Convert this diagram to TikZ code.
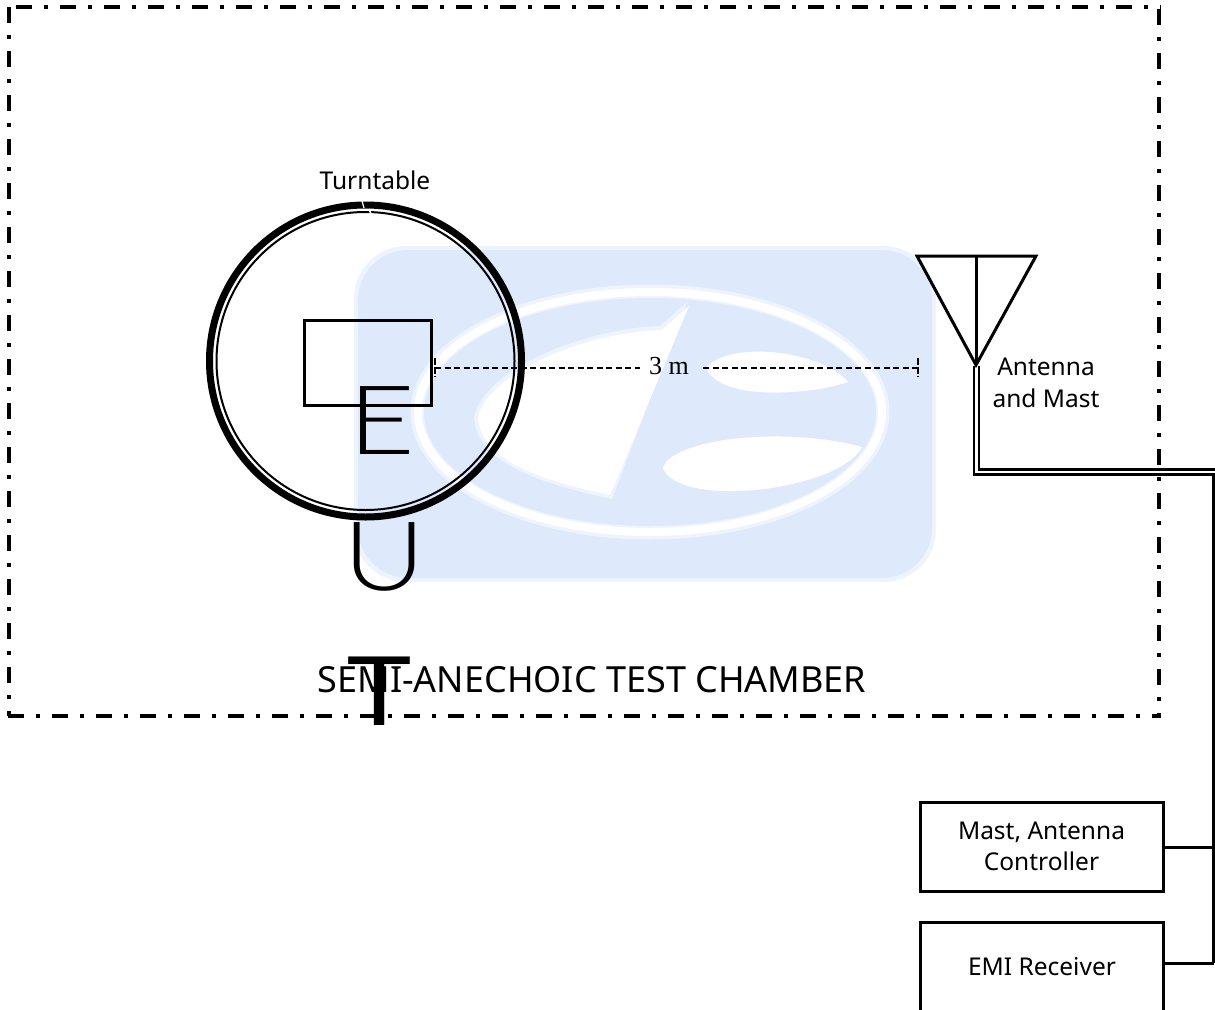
\documentclass[tikz,border=0pt]{standalone}
\usepackage{fontspec}
\setmainfont{Noto Sans}
\newfontfamily\serifnum{Liberation Serif}
\newfontfamily\lightfam{Lato}[UprightFont=* Light]
\definecolor{wm}{HTML}{DFE9FC}
\definecolor{wmsoft}{HTML}{EEF4FE}
\tikzset{
  x=1pt,y=-1pt,
  border/.style={line width=4pt,dash pattern=on 16pt off 12pt on 4pt off 12pt},
  heavy/.style={line width=3pt},
  thinwire/.style={line width=2.3pt},
  dim/.style={line width=1.3pt,dash pattern=on 6pt off 3.5pt},
  label/.style={inner sep=0pt,align=center,font=\fontsize{24.5}{31.5}\selectfont},
  bigletter/.style={inner sep=0pt,xscale=1.2,font=\lightfam\fontsize{96}{96}\selectfont},
  boxn/.style={draw,heavy,inner sep=0pt},
}
\begin{document}
\begin{tikzpicture}
\useasboundingbox (0,0) rectangle (1215,1009);
\clip (0,0) rectangle (1215,1009);
% watermark
\fill[wmsoft,rounded corners=52pt] (354,246) rectangle (936,582);
\fill[wm,rounded corners=50pt] (358,250) rectangle (932,578);
\draw[wmsoft,line width=15pt,fill=wm] (650,412) ellipse [x radius=232,y radius=120];
\draw[white,line width=8pt] (650,412) ellipse [x radius=232,y radius=120];
\fill[wm] (650,412) ellipse [x radius=226,y radius=114];
\fill[wmsoft] (474,417) .. controls (486,366) and (590,328) .. (660,326) -- (687,302) -- (612,499) .. controls (540,484) and (476,462) .. (474,417) -- cycle;
\fill[white] (478,417) .. controls (490,370) and (590,332) .. (662,330) -- (689,306) -- (610,495) .. controls (540,480) and (480,460) .. (478,417) -- cycle;
\fill[white] (706,368) .. controls (730,340) and (820,350) .. (848,382) -- (838,385) .. controls (800,395) and (720,400) .. (706,368) -- cycle;
\fill[white] (663,468) .. controls (670,440) and (780,425) .. (862,447) .. controls (840,490) and (680,510) .. (663,468) -- cycle;
% chamber
\draw[border] (16,7) -- (1161,7);
\draw[border] (9,7) -- (9,716);
\draw[border] (1159,9) -- (1159,716);
\draw[border] (8,716) -- (1161,716);
% turntable
\node[circle,draw,line width=7pt,minimum size=312pt,inner sep=0pt] (table) at (365.5,361) {};
\node[circle,draw,line width=2pt,minimum size=298pt,inner sep=0pt] (tableinner) at (365.5,361) {};
\draw[white,line width=1.2pt] (362,201) -- (364,208);
\draw[white,line width=1.5pt] (369,209) -- (371,214);
\node[label] (tt) at (375,180) {Turntable};
% EUT
\node[boxn,minimum width=127pt,minimum height=85pt] (eut) at (367.5,362.5) {};
\node[bigletter] (e) at (382,421) {E};
\node[bigletter,xscale=0.98] (u) at (385,557) {U};
\node[inner sep=0pt,xscale=1.2,font=\fontsize{96}{96}\selectfont] (t) at (380,691) {T};
\node[inner sep=0pt,font=\fontsize{36}{42}\selectfont] (chamber) at (592,680) {SEMI-ANECHOIC TEST CHAMBER};
% dimension
\coordinate (d1) at (435,368);
\coordinate (d2) at (918,368);
\node[inner sep=0pt,font=\serifnum\fontsize{26}{30}\selectfont] (dm) at (669,366) {3 m};
\draw[dim] (d1) -- (640,368) (d2) -- (702,368);
\draw[line width=1.3pt,dash pattern=on 7pt off 2pt] (435,358) -- (435,377);
\draw[line width=1.3pt,dash pattern=on 7pt off 2pt] (918,358) -- (918,377);
% antenna
\coordinate (tipA) at (976,365);
\draw[heavy,line join=miter] (917,256) -- (1036,256) -- (tipA) -- cycle;
\draw[heavy] (976,256) -- (tipA);
\node[label] (ant) at (1046,383) {Antenna\\and Mast};
% mast and cable
\draw[thinwire] (974,366) -- (974,474.5) -- (1215,474.5);
\draw[thinwire] (979,366) -- (979,469.5) -- (1215,469.5);
% rack
\coordinate (bus) at (1213.5,474);
\node[boxn,minimum width=243pt,minimum height=89pt] (mac) at (1041.5,846.5) {};
\node[label] at (mac.center) (mact) {Mast, Antenna\\Controller};
\node[boxn,minimum width=243pt,minimum height=180pt] (emi) at (1041.5,1012) {};
\node[label] (emit) at (1042,967) {EMI Receiver};
\coordinate (busB) at (1213.5,963);
\coordinate (busA) at (1213.5,847);
\draw[heavy] (bus) -- (busB);
\draw[heavy] (mac.east |- busA) -- (busA);
\draw[heavy] (emi.east |- busB) -- (busB);
\end{tikzpicture}
\end{document}
